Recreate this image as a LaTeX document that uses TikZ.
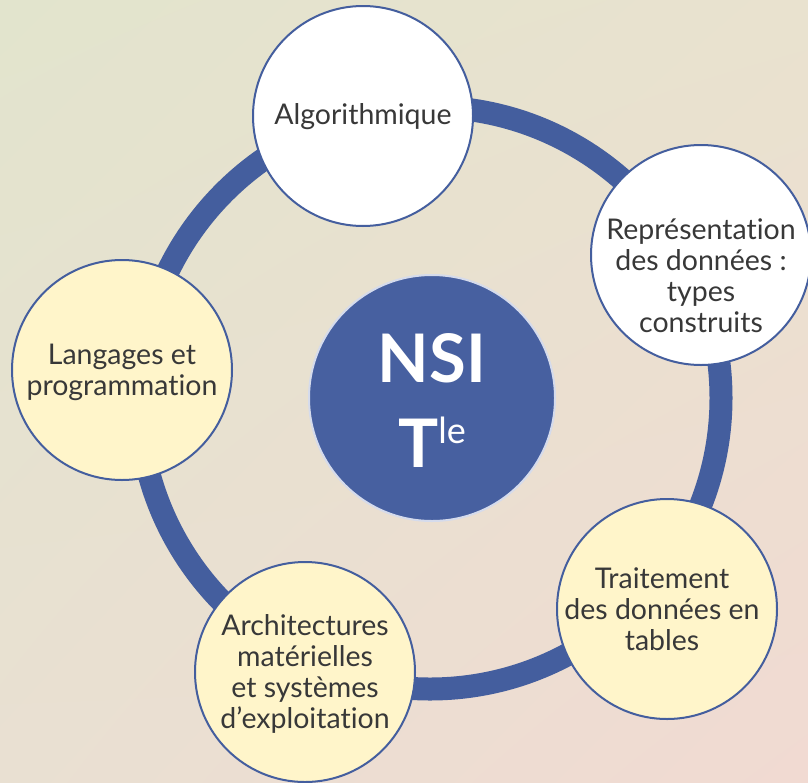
\documentclass[tikz,border=0pt]{standalone}
\usepackage{fontspec}
\setmainfont{Lato}[Ligatures=NoCommon]
\usetikzlibrary{shadings}
\definecolor{ringblue}{HTML}{445E9E}
\definecolor{nsiblue}{HTML}{4760A0}
\definecolor{nsiedge}{HTML}{D5DBEC}
\definecolor{cream}{HTML}{FFF5CA}
\definecolor{textgray}{HTML}{383838}
\definecolor{bgul}{HTML}{E2E4CD}
\definecolor{bgur}{HTML}{E9E2CF}
\definecolor{bgll}{HTML}{E9E0D2}
\definecolor{bglr}{HTML}{F1DAD2}

\begin{document}
\begin{tikzpicture}[x=1pt,y=-1pt,
  sat/.style={circle, draw=ringblue, line width=2pt, minimum size=220pt, inner sep=0pt},
  lbl/.style={align=center, text=textgray, font=\fontsize{28.5}{31}\selectfont},
  nsitxt/.style={text=white, font=\fontsize{67}{80}\selectfont\bfseries, inner sep=0pt}]
  \shade[upper left=bgul, upper right=bgur, lower left=bgll, lower right=bglr] (0,0) rectangle (808,782);
  \useasboundingbox (0,0) rectangle (808,782);
  \draw[ringblue, line width=23pt] (430,398) circle[radius=291];
  % centre
  \node[circle, fill=nsiblue, draw=nsiedge, line width=2pt, minimum size=246pt] (nsi) at (432,398) {};
  \node[nsitxt, anchor=base] (nsi-name) at (432,382) {NSI};
  \node[nsitxt, anchor=base] (nsi-level) at (432,467) {T\raisebox{24pt}{\fontsize{36}{36}\selectfont\mdseries le}};
  % themes
  \foreach \n/\x/\y/\f in {algo/363/116/white, repr/701/255/white, trait/667/609/cream, archi/305/672/cream, lang/122/370/cream}
  {
    \node[sat, fill=\f] (\n) at (\x,\y) {};
  }
  \foreach \n/\dx/\dy/\t in {algo/0/1/{Algorithmique}, repr/0/21/{Représentation\\des données :\\types\\construits}, trait/-5/0/{Traitement\\des données en\\tables}, archi/0/2/{Architectures\\matérielles\\et systèmes\\d’exploitation}, lang/0/2/{Langages et\\programmation}}
  {
    \node[lbl] (\n-txt) at ([shift={(\dx,\dy)}]\n) {\t};
  }
\end{tikzpicture}
\end{document}
